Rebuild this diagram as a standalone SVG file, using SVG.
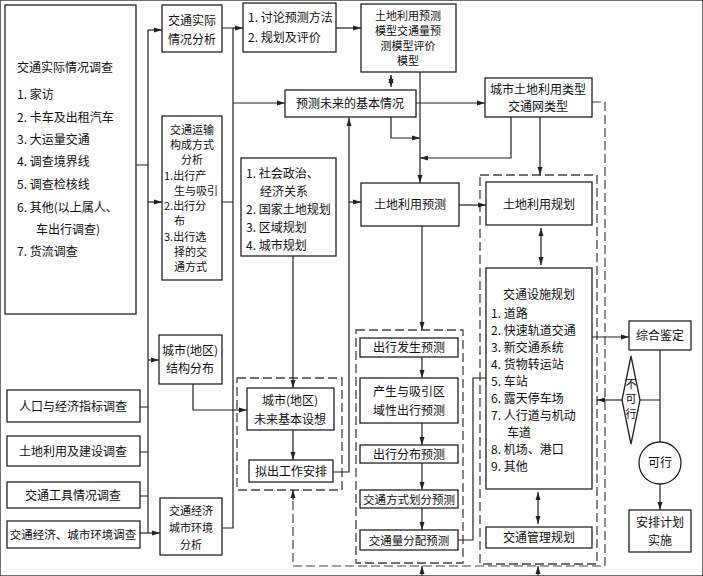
<svg xmlns="http://www.w3.org/2000/svg" width="703" height="576" viewBox="0 0 703 576">
<defs>
<marker id="a" markerWidth="8" markerHeight="6" refX="8" refY="3" orient="auto" markerUnits="userSpaceOnUse"><path d="M0,0.5 L8,3 L0,5.5z" fill="#222"/></marker>
<marker id="s" markerWidth="8" markerHeight="6" refX="0" refY="3" orient="auto" markerUnits="userSpaceOnUse"><path d="M8,0.5 L0,3 L8,5.5z" fill="#222"/></marker>
</defs>
<style>
rect,circle,polygon{fill:#fff;stroke:#222;stroke-width:1.3}
.d{fill:none;stroke:#444;stroke-width:1.3;stroke-dasharray:9 4}
text{font-family:"Noto Sans CJK SC","Noto Sans",sans-serif;font-size:12px;fill:#111}
.c{text-anchor:middle}
.sm{font-size:11px}
#conn path{fill:none;stroke:#222;stroke-width:1.2}
#conn .dl{stroke-dasharray:9 4;stroke:#444}
</style>
<rect width="703" height="576" fill="#fff" stroke="none"/>
<g id="dashed">
<rect class="d" x="237" y="378" width="105" height="112"/>
<rect class="d" x="356" y="330" width="107" height="233"/>
<rect class="d" x="480" y="175" width="117" height="389"/>
</g>
<g id="conn">
<path d="M136,165 H148 M148,30 V533" />
<path d="M148,30 H162" marker-end="url(#a)"/>
<path d="M148,202 H162" marker-end="url(#a)"/>
<path d="M148,360 H159" marker-end="url(#a)"/>
<path d="M140,407 H148 M140,452 H148 M140,496 H148"/>
<path d="M140,533 H160" marker-end="url(#a)"/>
<path d="M222,28 H233 V528 H222 M222,202 H233"/>
<path d="M233,28 H243" marker-end="url(#a)"/>
<path d="M233,103 H285" marker-end="url(#a)"/>
<path d="M336,28 H361" marker-end="url(#a)"/>
<path d="M391,75 V87" marker-start="url(#s)" marker-end="url(#a)"/>
<path d="M420,72 V183" marker-end="url(#a)"/>
<path d="M391,117 V138 H420" marker-end="url(#a)"/>
<path d="M511,117 V158 H420" marker-end="url(#a)"/>
<path d="M416,103 H485" marker-end="url(#a)"/>
<path d="M540,117 V175" marker-end="url(#a)"/>
<path d="M293,256 V388" marker-end="url(#a)"/>
<path d="M333,472 H349 V118" marker-end="url(#a)"/>
<path d="M349,202 H361" marker-end="url(#a)"/>
<path d="M459,205 H486" marker-end="url(#a)"/>
<path d="M193,384 V410 H247" marker-end="url(#a)"/>
<path d="M293,430 V460" marker-end="url(#a)"/>
<path d="M422,226 V330" marker-end="url(#a)"/>
<path d="M422,357 V378" marker-end="url(#a)"/>
<path d="M422,423 V445" marker-end="url(#a)"/>
<path d="M422,463 V490" marker-end="url(#a)"/>
<path d="M422,508 V530" marker-end="url(#a)"/>
<path d="M458,540 H473 V378 H486"/>
<path d="M541,228 V265" marker-start="url(#s)" marker-end="url(#a)"/>
<path d="M538,492 V524" marker-start="url(#s)" marker-end="url(#a)"/>
<path d="M592,337 H629" marker-end="url(#a)"/>
<path d="M660,350 V442 M660,400 H639"/>
<path d="M623,400 H597" marker-end="url(#a)"/>
<path d="M660,484 V510" marker-end="url(#a)"/>
<path class="dl" d="M592,102 H605 V566 H293 V492"/>
<path d="M293,500 V490" marker-end="url(#a)"/>
<path d="M422,576 V566" marker-end="url(#a)"/>
<path d="M538,576 V566" marker-end="url(#a)"/>
</g>
<g id="n1"><rect x="5" y="5" width="131" height="309"/>
<text x="17" y="72">交通实际情况调查</text>
<text x="17" y="99">1. 家访</text><text x="17" y="122">2. 卡车及出租汽车</text><text x="17" y="144">3. 大运量交通</text><text x="17" y="166">4. 调查境界线</text><text x="17" y="189">5. 调查检核线</text><text x="17" y="212">6. 其他(以上属人、</text><text x="36" y="234">车出行调查)</text><text x="17" y="256">7. 货流调查</text></g>
<g id="n2"><rect x="162" y="5" width="60" height="47"/><text class="c" x="192" y="25">交通实际</text><text class="c" x="192" y="44">情况分析</text></g>
<g id="n3"><rect x="162" y="116" width="60" height="164"/>
<text class="c sm" x="192" y="134">交通运输</text><text class="c sm" x="192" y="149">构成方式</text><text class="c sm" x="192" y="164">分析</text>
<text class="sm" x="164" y="180">1.出行产</text><text class="sm" x="174" y="195">生与吸引</text><text class="sm" x="164" y="210">2.出行分</text><text class="sm" x="174" y="225">布</text><text class="sm" x="164" y="241">3.出行选</text><text class="sm" x="174" y="256">择的交</text><text class="sm" x="174" y="271">通方式</text></g>
<g id="n4"><rect x="243" y="3" width="93" height="49"/><text x="248" y="22">1. 讨论预测方法</text><text x="248" y="42">2. 规划及评价</text></g>
<g id="n5"><rect x="361" y="4" width="95" height="68"/><text class="c sm" x="408" y="20">土地利用预测</text><text class="c sm" x="408" y="35">模型交通量预</text><text class="c sm" x="408" y="50">测模型评价</text><text class="c sm" x="408" y="65">模型</text></g>
<g id="n6"><rect x="285" y="90" width="131" height="27"/><text class="c" x="350" y="108">预测未来的基本情况</text></g>
<g id="n7"><rect x="485" y="78" width="107" height="39"/><text class="c" x="538" y="94">城市土地利用类型</text><text class="c" x="538" y="111">交通网类型</text></g>
<g id="n8"><rect x="241" y="158" width="95" height="98"/><text x="246" y="178">1. 社会政治、</text><text x="260" y="196">经济关系</text><text x="246" y="214">2. 国家土地规划</text><text x="246" y="232">3. 区域规划</text><text x="246" y="250">4. 城市规划</text></g>
<g id="n9"><rect x="361" y="183" width="98" height="43"/><text class="c" x="410" y="209">土地利用预测</text></g>
<g id="n10"><rect x="486" y="182" width="106" height="43"/><text class="c" x="539" y="209">土地利用规划</text></g>
<g id="n11"><rect x="486" y="268" width="106" height="221"/><text class="c" x="539" y="299">交通设施规划</text>
<text x="491" y="318">1. 道路</text><text x="491" y="335">2. 快速轨道交通</text><text x="491" y="352">3. 新交通系统</text><text x="491" y="369">4. 货物转运站</text><text x="491" y="386">5. 车站</text><text x="491" y="403">6. 露天停车场</text><text x="491" y="420">7. 人行道与机动</text><text x="507" y="437">车道</text><text x="491" y="454">8. 机场、港口</text><text x="491" y="471">9. 其他</text></g>
<g id="n12"><rect x="486" y="527" width="106" height="21"/><text class="c" x="539" y="542">交通管理规划</text></g>
<g id="n13"><rect x="629" y="321" width="62" height="29"/><text class="c" x="660" y="340">综合鉴定</text></g>
<g id="n14"><polygon points="631,356 640,400 631,444 622,400"/><text class="c" x="631" y="388" style="font-size:11px">不</text><text class="c" x="631" y="403" style="font-size:11px">可</text><text class="c" x="631" y="418" style="font-size:11px">行</text></g>
<g id="n15"><circle cx="660" cy="463" r="21"/><text class="c" x="660" y="467">可行</text></g>
<g id="n16"><rect x="629" y="510" width="62" height="42"/><text class="c" x="660" y="527">安排计划</text><text class="c" x="660" y="545">实施</text></g>
<g id="n17"><rect x="7" y="390" width="133" height="32"/><text class="c" x="73" y="411">人口与经济指标调查</text></g>
<g id="n18"><rect x="7" y="436" width="133" height="30"/><text class="c" x="73" y="456">土地利用及建设调查</text></g>
<g id="n19"><rect x="7" y="482" width="133" height="26"/><text class="c" x="73" y="500">交通工具情况调查</text></g>
<g id="n20"><rect x="7" y="521" width="133" height="27"/><text class="c" x="73" y="539" style="font-size:11.5px">交通经济、城市环境调查</text></g>
<g id="n21"><rect x="159" y="335" width="63" height="49"/><text class="c" x="190" y="355">城市(地区)</text><text class="c" x="190" y="373">结构分布</text></g>
<g id="n22"><rect x="160" y="498" width="62" height="57"/><text class="c sm" x="191" y="515">交通经济</text><text class="c sm" x="191" y="532">城市环境</text><text class="c sm" x="191" y="549">分析</text></g>
<g id="n23"><rect x="247" y="388" width="87" height="42"/><text class="c" x="290" y="405">城市(地区)</text><text class="c" x="290" y="424">未来基本设想</text></g>
<g id="n24"><rect x="249" y="460" width="84" height="22"/><text class="c" x="291" y="476">拟出工作安排</text></g>
<g id="n25"><rect x="360" y="338" width="98" height="19"/><text class="c" x="409" y="352">出行发生预测</text></g>
<g id="n26"><rect x="360" y="378" width="98" height="45"/><text class="c" x="409" y="396">产生与吸引区</text><text class="c" x="409" y="415">域性出行预测</text></g>
<g id="n27"><rect x="360" y="445" width="98" height="18"/><text class="c" x="409" y="459">出行分布预测</text></g>
<g id="n28"><rect x="360" y="490" width="98" height="18"/><text class="c" x="409" y="504" style="font-size:11.5px">交通方式划分预测</text></g>
<g id="n29"><rect x="360" y="530" width="98" height="20"/><text class="c" x="409" y="545" style="font-size:11.5px">交通量分配预测</text></g>
</svg>
